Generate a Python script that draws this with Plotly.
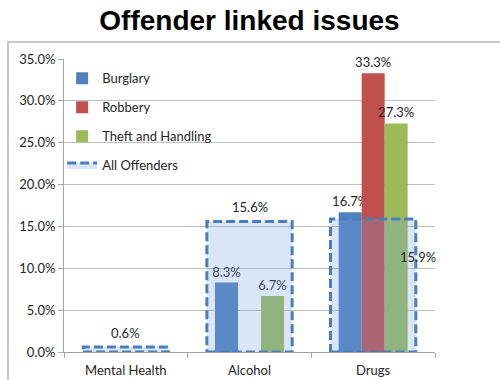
import plotly.graph_objects as go

categories = ["Mental Health", "Alcohol", "Drugs"]
burglary = [None, 8.3, 16.7]
robbery = [None, None, 33.3]
theft = [None, 6.7, 27.3]
all_offenders = [0.6, 15.6, 15.9]
y_ticks = [0, 5, 10, 15, 20, 25, 30, 35]

FONT = "Lato, Open Sans, sans-serif"
TXT = "#262626"
idx = list(range(len(categories)))

fig = go.Figure()

bar_w = 0.186
series = [
    ("Burglary", burglary, "#4f81bd", -0.279),
    ("Robbery", robbery, "#c0504d", -0.093),
    ("Theft and Handling", theft, "#9bbb59", 0.093),
]
for name, vals, col, off in series:
    fig.add_trace(go.Bar(
        x=idx, y=vals, name=name, width=bar_w, offset=off,
        marker=dict(color=col, line=dict(width=0)),
        text=[None if v is None else f"{v:.1f}%" for v in vals],
        textposition="outside", constraintext="none", cliponaxis=False,
        textfont=dict(family=FONT, size=13, color=TXT),
        legendgroup=name,
    ))

# All offenders: dashed translucent boxes built from the data
box_half = 0.345
xs, ys = [], []
for i, v in zip(idx, all_offenders):
    xs += [i - box_half, i + box_half, i + box_half, i - box_half, i - box_half, None]
    ys += [0, 0, v, v, 0, None]
fig.add_trace(go.Scatter(
    x=xs, y=ys, name="All Offenders", mode="lines", fill="toself",
    fillcolor="rgba(120,160,220,0.27)",
    line=dict(color="#4a7ebb", width=3, dash="9px,4px"),
    legendgroup="All Offenders", cliponaxis=False,
))

for i, v in zip(idx, all_offenders):
    if categories[i] == "Drugs":
        fig.add_annotation(x=i + 0.36, y=v - 4.5, text=f"{v:.1f}%", showarrow=False,
                           font=dict(family=FONT, size=13, color=TXT))
    else:
        fig.add_annotation(x=i, y=v, yshift=14, text=f"{v:.1f}%", showarrow=False,
                           font=dict(family=FONT, size=13, color=TXT))

fig.add_shape(type="rect", xref="paper", yref="paper",
              x0=-0.151, x1=1.4, y0=-0.3, y1=1.058,
              line=dict(color="#c8c8c8", width=2), layer="below")

fig.update_layout(
    width=500, height=380,
    margin=dict(l=64, r=65, t=59, b=28),
    paper_bgcolor="white", plot_bgcolor="white",
    barmode="overlay",
    title=dict(text="<b>Offender linked issues</b>", x=0.5, xanchor="center",
               y=0.947, yanchor="middle", xref="paper",
               font=dict(family="Liberation Sans, Arial, sans-serif", size=28, color="black")),
    font=dict(family=FONT, size=13, color=TXT),
    showlegend=True,
    legend=dict(x=-0.005, y=0.985, xanchor="left", yanchor="top",
                bgcolor="rgba(0,0,0,0)", tracegroupgap=9,
                font=dict(family=FONT, size=13, color=TXT)),
    xaxis=dict(
        range=[-0.5, 2.5], tickmode="array", tickvals=idx, ticktext=categories,
        ticks="", showgrid=False, zeroline=False, automargin=False,
        showline=True, linecolor="#a6a6a6", linewidth=1,
        ticklabelstandoff=6,
        tickfont=dict(family=FONT, size=13, color=TXT),
        minor=dict(tickmode="array", tickvals=[-0.5, 0.5, 1.5, 2.5], ticks="outside",
                   ticklen=5, tickcolor="#a6a6a6", showgrid=False),
    ),
    yaxis=dict(
        range=[0, 35], tickmode="array", tickvals=y_ticks, automargin=False,
        ticktext=[f"{t:.1f}%" for t in y_ticks],
        showgrid=True, gridcolor="#bfbfbf", gridwidth=1, zeroline=False,
        showline=True, linecolor="#a6a6a6", linewidth=1,
        ticks="outside", ticklen=5, tickcolor="#a6a6a6",
        tickfont=dict(family=FONT, size=13, color=TXT),
    ),
)

fig.write_html("out.html")
